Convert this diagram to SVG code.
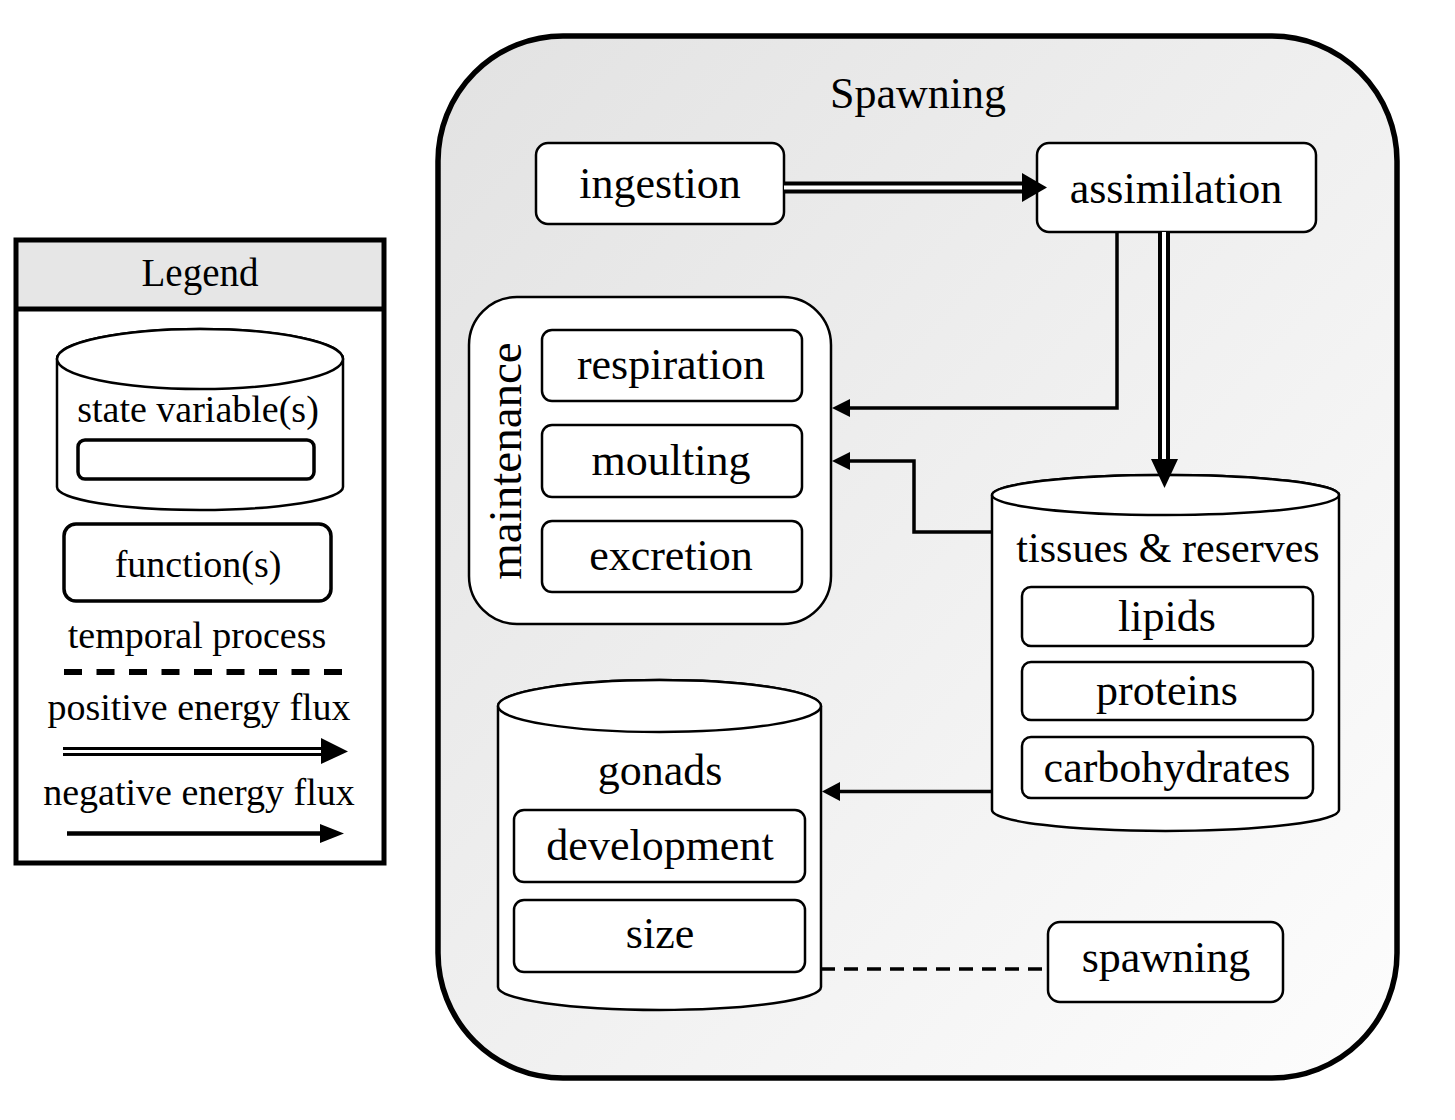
<svg xmlns="http://www.w3.org/2000/svg" width="1455" height="1120" viewBox="0 0 1455 1120">
<defs>
<linearGradient id="bg" x1="0" y1="0" x2="1" y2="1">
<stop offset="0" stop-color="#e2e2e2"/>
<stop offset="1" stop-color="#fdfdfd"/>
</linearGradient>
<style>
text{font-family:"Liberation Serif","Times New Roman",serif;fill:#000;text-anchor:middle}
.t{font-size:44px}
.l{font-size:38px}
.box{fill:#fff;stroke:#000;stroke-width:2.5}
.thk{fill:#fff;stroke:#000;stroke-width:3.5}
.ln{fill:none;stroke:#000;stroke-width:3.5}
.dbl{fill:none;stroke:#000;stroke-width:12}
.dbli{fill:none;stroke:#fff;stroke-width:4}
.hd{fill:#000;stroke:none}
</style>
</defs>
<rect width="1455" height="1120" fill="#fff"/>

<g id="legend">
<rect x="16" y="240" width="368" height="69" fill="#e6e6e6"/>
<rect x="16" y="240" width="368" height="623" fill="none" stroke="#000" stroke-width="5"/>
<line x1="16" y1="309" x2="384" y2="309" stroke="#000" stroke-width="5"/>
<text class="l" x="200" y="286" style="font-size:39px">Legend</text>
<path class="box" d="M57,359 V487 A143,23 0 0 0 343,487 V359 A143,30 0 0 0 57,359 Z"/>
<ellipse class="box" cx="200" cy="359" rx="143" ry="30"/>
<text class="l" x="198" y="422">state variable(s)</text>
<rect class="thk" x="78" y="440" width="236" height="39" rx="7"/>
<rect class="thk" x="64" y="524" width="267" height="77" rx="12"/>
<text class="l" x="198" y="577">function(s)</text>
<text class="l" x="197" y="648">temporal process</text>
<line x1="64" y1="672" x2="342" y2="672" stroke="#000" stroke-width="6" stroke-dasharray="18 14.5"/>
<text class="l" x="199" y="720">positive energy flux</text>
<line x1="63" y1="751.5" x2="324" y2="751.5" stroke="#000" stroke-width="9"/>
<line x1="63" y1="751.5" x2="324" y2="751.5" stroke="#fff" stroke-width="3"/>
<polygon class="hd" points="321,738 348,751.5 321,764"/>
<text class="l" x="199" y="805">negative energy flux</text>
<line x1="67" y1="833.5" x2="323" y2="833.5" stroke="#000" stroke-width="4.5"/>
<polygon class="hd" points="320,824 344,833.5 320,843"/>
</g>

<g id="spawning-stage">
<rect x="438" y="36" width="959" height="1042" rx="125" ry="125" fill="url(#bg)" stroke="#000" stroke-width="5.5"/>
<text class="t" x="918" y="108">Spawning</text>
</g>

<g id="ingestion">
<rect class="box" x="536" y="143" width="248" height="81" rx="12"/>
<text class="t" x="660" y="198">ingestion</text>
</g>

<g id="assimilation">
<rect class="box" x="1037" y="143" width="279" height="89" rx="12"/>
<text class="t" x="1176" y="203">assimilation</text>
</g>

<g id="maintenance">
<rect class="box" x="469" y="297" width="362" height="327" rx="48"/>
<text x="521" y="461" transform="rotate(-90 521 461)" style="font-size:47px">maintenance</text>
<rect class="box" x="542" y="330" width="260" height="71" rx="10"/>
<text class="t" x="671" y="379">respiration</text>
<rect class="box" x="542" y="425" width="260" height="72" rx="10"/>
<text class="t" x="671" y="475">moulting</text>
<rect class="box" x="542" y="521" width="260" height="71" rx="10"/>
<text class="t" x="671" y="570">excretion</text>
</g>

<g id="tissues-reserves">
<path class="box" d="M992,495 V810 A173.5,21 0 0 0 1339,810 V495 A173.5,20 0 0 0 992,495 Z"/>
<ellipse class="box" cx="1165.5" cy="495" rx="173.5" ry="20"/>
<text class="t" x="1168" y="562" style="font-size:42px">tissues &amp; reserves</text>
<rect class="box" x="1022" y="587" width="291" height="59" rx="9"/>
<text class="t" x="1167" y="631">lipids</text>
<rect class="box" x="1022" y="662" width="291" height="58" rx="9"/>
<text class="t" x="1167" y="705">proteins</text>
<rect class="box" x="1022" y="737" width="291" height="61" rx="9"/>
<text class="t" x="1167" y="782">carbohydrates</text>
</g>

<g id="gonads">
<path class="box" d="M498,706 V987 A161.5,23 0 0 0 821,987 V706 A161.5,26 0 0 0 498,706 Z"/>
<ellipse class="box" cx="659.5" cy="706" rx="161.5" ry="26"/>
<text class="t" x="660" y="785">gonads</text>
<rect class="box" x="514" y="810" width="291" height="72" rx="10"/>
<text class="t" x="660" y="860">development</text>
<rect class="box" x="514" y="900" width="291" height="72" rx="10"/>
<text class="t" x="660" y="948">size</text>
</g>

<g id="spawning">
<rect class="box" x="1048" y="922" width="235" height="80" rx="12"/>
<text class="t" x="1166" y="972">spawning</text>
</g>

<g id="connectors">
<line class="dbl" x1="784" y1="187.5" x2="1024" y2="187.5"/>
<line class="dbli" x1="784" y1="187.5" x2="1024" y2="187.5"/>
<polygon class="hd" points="1022,173 1047,187.5 1022,202"/>
<line class="dbl" x1="1164" y1="232" x2="1164" y2="462"/>
<line class="dbli" x1="1164" y1="232" x2="1164" y2="462"/>
<polygon class="hd" points="1151,459 1178,459 1164.5,488"/>
<path class="ln" d="M1117,232 V408 H848"/>
<polygon class="hd" points="850,399 832,408 850,417"/>
<path class="ln" d="M992,532 H914 V461 H848"/>
<polygon class="hd" points="850,452 832,461 850,470"/>
<line class="ln" x1="992" y1="791.5" x2="838" y2="791.5"/>
<polygon class="hd" points="840,782 822,791.5 840,801"/>
<line x1="821" y1="969" x2="1048" y2="969" stroke="#000" stroke-width="3.5" stroke-dasharray="14 9"/>
</g>
</svg>
